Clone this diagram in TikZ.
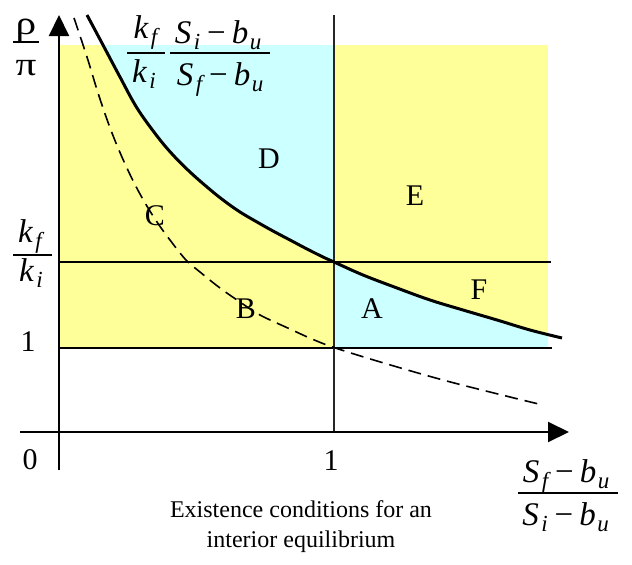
\documentclass[tikz,border=0pt]{standalone}
\usepackage{fontspec}
\usepackage{graphicx}
\setmainfont{Liberation Serif}
\usetikzlibrary{arrows.meta}
\definecolor{yel}{HTML}{FFFF99}
\definecolor{cya}{HTML}{CCFFFF}
\newcommand{\sbs}[1]{\raisebox{-6pt}{\fontsize{23}{23}\selectfont\itshape #1}}
\newcommand{\kx}[1]{{\itshape k}\hspace{2.5pt}\sbs{#1}}
\newcommand{\ex}[2]{{\itshape S}\hspace{2.5pt}\sbs{#1}\hspace{7pt}−\hspace{6pt}{\itshape b}\hspace{1.5pt}\sbs{#2}}
\newcommand{\wide}[1]{\scalebox{1.25}[1]{#1}}
\tikzset{
  axisline/.style={line width=2pt, -{Triangle[length=21pt,width=20pt]}},
  gridline/.style={line width=2pt},
  vline/.style={line width=1.6pt, black!85},
  solidcurve/.style={line width=3pt},
  dashcurve/.style={line width=1.6pt, dash pattern=on 13pt off 7pt},
  fracbar/.style={line width=1.5pt},
  region/.style={font=\fontsize{30}{36}\selectfont, inner sep=0pt},
  term/.style={font=\fontsize{33}{38}\selectfont, inner sep=0pt, anchor=base},
  caption/.style={font=\fontsize{24}{30}\selectfont, align=center, inner sep=0pt}
}
\begin{document}
\begin{tikzpicture}[x=1pt,y=-1pt]
\useasboundingbox (0,0) rectangle (632,565);
% background regions
\fill[yel] (59,45) rectangle (548,348);
\begin{scope}
  \clip (59,45) rectangle (334,262);
  \fill[cya] plot[smooth, tension=0.6] coordinates {(87,15) (103,45) (120,77) (137,108) (157,136) (173,155) (190,172) (207,187) (223,200) (240,212) (257,222) (273,231) (290,240) (307,249) (323,257) (334,262) (363,275) (397,288) (430,300) (463,310) (497,320) (530,330) (562,338)} -- (562,0) -- (87,0) -- cycle;
\end{scope}
\begin{scope}
  \clip (334,262) rectangle (548,348);
  \fill[cya] plot[smooth, tension=0.6] coordinates {(87,15) (103,45) (120,77) (137,108) (157,136) (173,155) (190,172) (207,187) (223,200) (240,212) (257,222) (273,231) (290,240) (307,249) (323,257) (334,262) (363,275) (397,288) (430,300) (463,310) (497,320) (530,330) (562,338)} -- (562,420) -- (87,420) -- cycle;
\end{scope}
% coordinates
\coordinate (ytop) at (59,15);
\coordinate (ybot) at (59,470);
\coordinate (xl) at (20,432);
\coordinate (xr) at (569,432);
\coordinate (vt) at (334,15);
\coordinate (vb) at (334,432);
\coordinate (h2l) at (59,262);
\coordinate (h2r) at (551,262);
\coordinate (h1l) at (59,348);
\coordinate (h1r) at (552,348);
% lines
\draw[gridline] (h2l) -- (h2r);
\draw[gridline] (h1l) -- (h1r);
\draw[vline] (vt) -- (vb);
\draw[axisline] (ybot) -- (ytop);
\draw[axisline] (xl) -- (xr);
% curves
\draw[solidcurve] plot[smooth, tension=0.6] coordinates {(87,15) (103,45) (120,77) (137,108) (157,136) (173,155) (190,172) (207,187) (223,200) (240,212) (257,222) (273,231) (290,240) (307,249) (323,257) (334,262) (363,275) (397,288) (430,300) (463,310) (497,320) (530,330) (562,338)};
\draw[dashcurve] plot[smooth, tension=0.6] coordinates {(74,18) (87,57) (99,96) (112,133) (126,166) (140,194) (155,219) (170,240) (186,260) (200,272) (220,288) (240,302) (260,315) (290,329) (312,339) (334,347.5) (377,361) (443,380) (510,397) (543,405)};
% region labels
\node[region] (D) at (269,159) {D};
\node[region] (E) at (415,196) {E};
\node[region] (C) at (155,216) {C};
\node[region] (B) at (246,309) {B};
\node[region] (A) at (372,309) {A};
\node[region] (F) at (479,290) {F};
% axis numbers
\node[region] (one) at (28,342) {1};
\node[region] (zero) at (30,460) {0};
\node[region] (xone) at (331,461) {1};
% y-axis label rho/pi
\node[term] (rhoN) at (26,34) {\wide{ρ}};
\draw[fracbar] (13,42) -- (39,42);
\node[term] (rhoD) at (26,75) {\wide{π}};
% y-axis label kf/ki
\node[term] (kkN) at (30,242) {\kx{f}};
\draw[fracbar] (13,255) -- (52,255);
\node[term] (kkD) at (31,281) {\kx{i}};
% curve label
\node[term] (ckN) at (145.5,38) {\kx{f}};
\draw[fracbar] (127,53) -- (165,53);
\node[term] (ckD) at (144,82) {\kx{i}};
\node[term] (csN) at (218,43) {\ex{i}{u}};
\draw[fracbar] (170,53) -- (270,53);
\node[term] (csD) at (220,85) {\ex{f}{u}};
% x-axis label
\node[term] (xN) at (566,482) {\ex{f}{u}};
\draw[fracbar] (518,493) -- (618,493);
\node[term] (xD) at (565.5,525) {\ex{i}{u}};
% caption
\node[caption] (cap) at (301,527) {Existence conditions for an\\interior equilibrium};
\end{tikzpicture}
\end{document}
